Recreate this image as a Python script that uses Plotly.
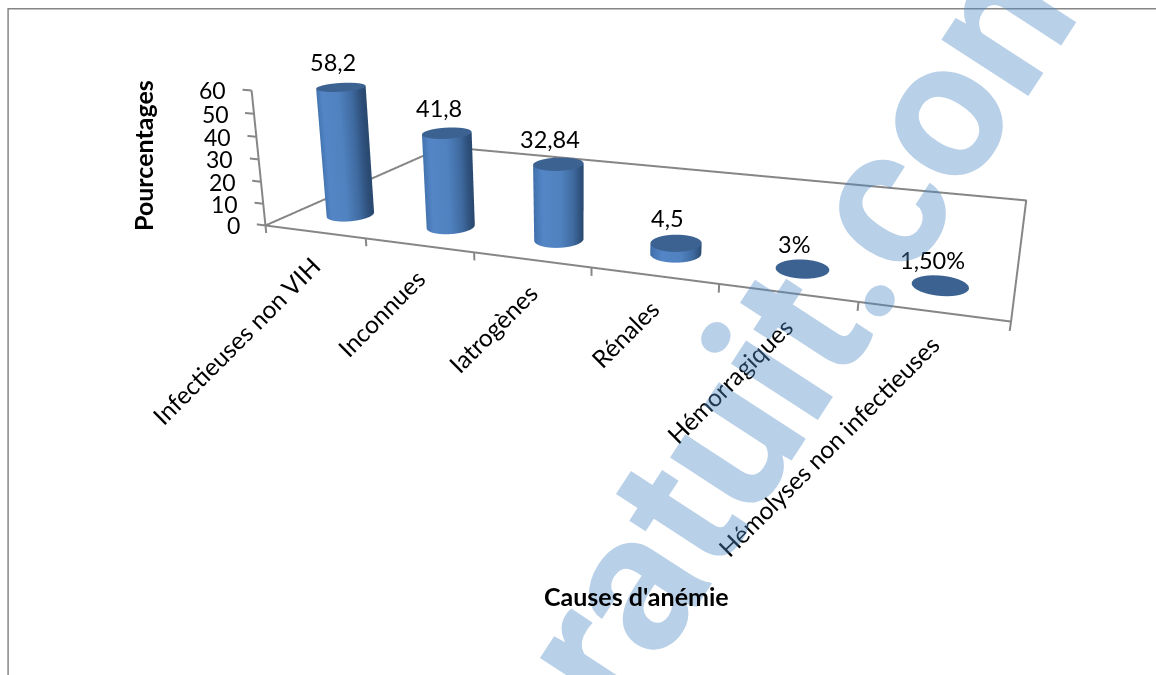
import numpy as np
import plotly.graph_objects as go

categories = ["Infectieuses non VIH", "Inconnues", "Iatrogènes", "Rénales", "Hémorragiques",
              "Hémolyses non infectieuses"]
# The last two causes are stored as fractions and shown with a percent format.
values = [58.2, 41.8, 32.84, 4.5, 0.03, 0.015]
value_labels = ["58,2", "41,8", "32,84", "4,5", "3%", "1,50%"]
z_ticks = [0, 10, 20, 30, 40, 50, 60]

W, H = 1156, 675
GRAY = "#868686"
FONT = "Lato"
TOP_COLOR = "#3b6291"
SIDE_SCALE = [[0, "#3f6fa8"], [.25, "#5486c7"], [.62, "#5082c0"], [.85, "#3f6a9f"], [1, "#2a4a72"]]
FLAT = dict(ambient=1, diffuse=0, specular=0, fresnel=0, roughness=1)

# Camera and proportions of the 3D box
EYE = np.array([0.3409, -1.1015, 0.3477])
LOOK = np.array([-0.2616, 0.8288, -0.4946])
UP = np.array([-0.1436, 0.4733, 0.8691])
RIGHT = np.cross(LOOK, UP)
SCALE_X, SCALE_Y, SCALE_Z = 1 / 6, 0.4225, 0.00301
X_RANGE, Y_RANGE, Z_RANGE = [-.6, 6.6], [-.2, 1.2], [-6, 66]

# Oblique skew of the box, on top of the perspective
SKEW_X_DEPTH, SKEW_X_HEIGHT, SKEW_Y_HEIGHT = 0.3249, -0.0573, 0.1064

# Bars stand near the front of the floor
BAR_DEPTH = 0.174
BAR_SHIFT = -0.005
RADIUS = 0.033
RADIUS_X = RADIUS / SCALE_X
RADIUS_Y = 0.9 * RADIUS / SCALE_Y


def skew(x, y, z):
    x, y, z = (np.asarray(a, float) for a in (x, y, z))
    return x + SKEW_X_DEPTH * y + SKEW_X_HEIGHT * z / 60, y + SKEW_Y_HEIGHT * z / 60, z


fig = go.Figure()
theta = np.linspace(0, 2 * np.pi, 73)
steps = len(theta)

# Cylinders: one shaded side surface and one flat cap each
for i, v in enumerate(values):
    xc, yc = i + .5 + BAR_SHIFT, BAR_DEPTH
    ring_x = xc + RADIUS_X * np.cos(theta)
    ring_y = yc + RADIUS_Y * np.sin(theta)
    x, y, z = skew([ring_x, ring_x], [ring_y, ring_y], [[0] * steps, [v] * steps])
    facing = (np.cos(theta) * RIGHT[0] + np.sin(theta) * RIGHT[1]) / np.hypot(RIGHT[0], RIGHT[1])
    fig.add_trace(go.Surface(x=x, y=y, z=z, surfacecolor=[facing, facing], cmin=-1, cmax=1,
                             colorscale=SIDE_SCALE, showscale=False, hoverinfo="skip", lighting=FLAT))
    cap = np.array([0, 1.0])
    x, y, z = skew(xc + np.outer(cap, RADIUS_X * np.cos(theta)),
                   yc + np.outer(cap, RADIUS_Y * np.sin(theta)),
                   np.full((2, steps), float(v)))
    fig.add_trace(go.Surface(x=x, y=y, z=z, surfacecolor=np.zeros((2, steps)), cmin=0, cmax=1,
                             colorscale=[[0, TOP_COLOR], [1, TOP_COLOR]], showscale=False,
                             hoverinfo="skip", lighting=FLAT))


def axis_line(x, y, z):
    a, b, c = skew(x, y, z)
    fig.add_trace(go.Scatter3d(x=a, y=b, z=c, mode="lines", line=dict(color=GRAY, width=4),
                               hoverinfo="skip", showlegend=False))


# Floor outline, value axis and tick marks
n = len(categories)
axis_line([0, n, n, 0, 0], [0, 0, 1, 1, 0], [0] * 5)
axis_line([0, 0], [0, 0], [0, z_ticks[-1]])
for t in range(n + 1):
    axis_line([t, t], [0, 0], [0, -3.5])
for t in z_ticks:
    axis_line([0, -.09], [0, 0], [t, t])


def scene_text(x, y, z, text, size, **kw):
    a, b, c = skew(x, y, z)
    return dict(x=float(a), y=float(b), z=float(c), text=text, showarrow=False,
                font=dict(family=FONT, size=size, color="black"), **kw)


notes = [scene_text(0, 0, t, str(t), 23, xanchor="right", yanchor="middle", xshift=-23) for t in z_ticks]
for i, (name, label, v) in enumerate(zip(categories, value_labels, values)):
    notes.append(scene_text(i + .5, 0, 0, name, 24.5, textangle=-45, xanchor="right", yanchor="top",
                            xshift=14, yshift=-16))
    notes.append(scene_text(i + .5 + BAR_SHIFT, BAR_DEPTH, v, label, 23.5, xshift=-8, yshift=25))

hidden = dict(visible=False, showbackground=False, showgrid=False, zeroline=False, showspikes=False)


def span(scale, rng):
    return scale * (rng[1] - rng[0])


fig.update_layout(
    width=W, height=H, margin=dict(l=0, r=0, t=0, b=0), paper_bgcolor="white", showlegend=False,
    scene=dict(
        domain=dict(x=[0.101, 1], y=[0, 1]),
        aspectmode="manual",
        aspectratio=dict(x=span(SCALE_X, X_RANGE), y=span(SCALE_Y, Y_RANGE), z=span(SCALE_Z, Z_RANGE)),
        xaxis=dict(range=X_RANGE, **hidden), yaxis=dict(range=Y_RANGE, **hidden),
        zaxis=dict(range=Z_RANGE, **hidden),
        camera=dict(eye=dict(x=EYE[0], y=EYE[1], z=EYE[2]),
                    center=dict(x=EYE[0] + LOOK[0], y=EYE[1] + LOOK[1], z=EYE[2] + LOOK[2]),
                    up=dict(x=UP[0], y=UP[1], z=UP[2]),
                    projection=dict(type="perspective")),
        annotations=notes),
    shapes=[dict(type="path", xref="paper", yref="paper", path="M 0.007 0 L 0.007 0.987 L 1 0.987",
                 line=dict(color=GRAY, width=1.5))],
    annotations=[
        dict(x=781 / W, y=1 - 354 / H, xref="paper", yref="paper", xanchor="center", yanchor="middle",
             text="<b>gratuit.com</b>", textangle=-57, showarrow=False,
             font=dict(family="Roboto", size=196, color="rgba(77,137,197,0.4)")),
        dict(x=637 / W, y=1 - 596 / H, xref="paper", yref="paper", xanchor="center", yanchor="middle",
             text="<b>Causes d'anémie</b>", showarrow=False,
             font=dict(family=FONT, size=25, color="black")),
        dict(x=143 / W, y=1 - 156 / H, xref="paper", yref="paper", xanchor="center", yanchor="middle",
             text="<b>Pourcentages</b>", textangle=-90, showarrow=False,
             font=dict(family=FONT, size=25, color="black")),
    ])

fig.write_html("out.html")
